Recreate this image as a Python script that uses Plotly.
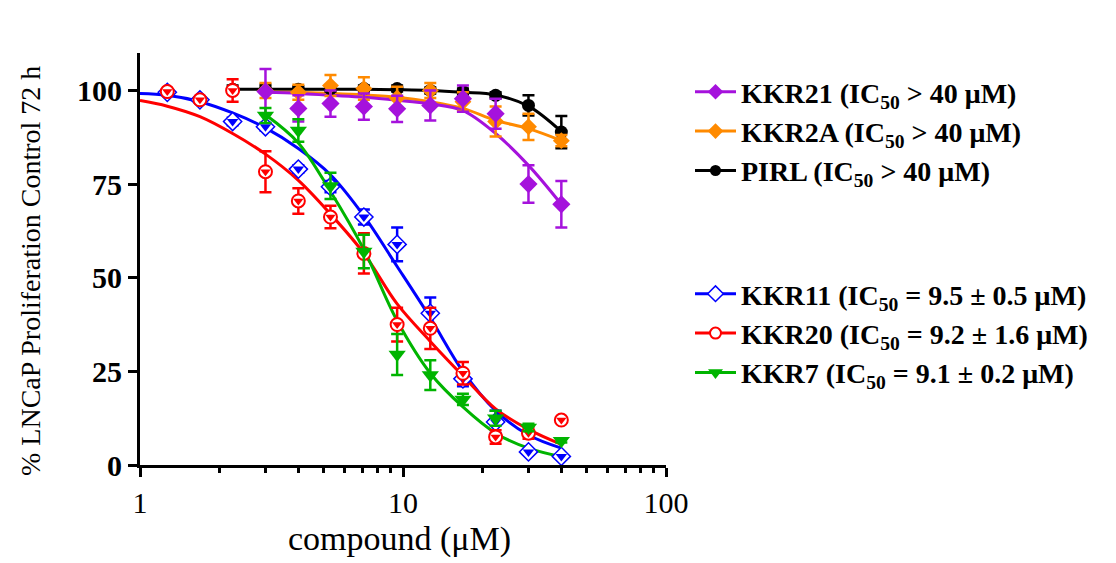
import plotly.graph_objects as go

# ---------------- data ----------------
conc = [1.27, 1.69, 2.25, 3.0, 4.0, 5.3, 7.1, 9.5, 12.7, 16.9, 22.5, 30, 40]
conc_from3 = [3.0, 4.0, 5.3, 7.1, 9.5, 12.7, 16.9, 22.5, 30, 40]
conc_from2 = [2.25, 3.0, 4.0, 5.3, 7.1, 9.5, 12.7, 16.9, 22.5, 30, 40]

kkr11_y = [99.5, 97.5, 91.7, 90.3, 79.0, 74.3, 66.2, 58.9, 40.5, 23.0, 11.5, 3.5, 2.3]
kkr11_err = [0.5, 0.5, 1.0, 1.0, 1.0, 1.5, 2.0, 4.5, 4.2, 2.0, 3.0, 0.5, 0.5]

kkr20_y = [99.7, 97.5, 100.0, 78.3, 70.5, 66.2, 56.5, 37.5, 36.5, 24.5, 7.5, 8.5, 12.0]
kkr20_err = [0.5, 0.5, 3.0, 5.5, 3.4, 3.0, 5.4, 4.5, 5.5, 3.0, 1.8, 1.5, 0.5]

kkr7_y = [93.3, 89.3, 74.5, 57.0, 29.5, 24.0, 17.5, 12.5, 10.0, 6.5]
kkr7_err = [2.0, 3.0, 3.5, 4.5, 5.5, 4.0, 1.5, 2.0, 1.0, 0.5]

kkr21_y = [99.7, 95.2, 96.5, 95.7, 95.1, 96.0, 97.8, 93.8, 75.0, 69.6]
kkr21_err = [6.0, 3.5, 3.5, 3.5, 3.5, 4.0, 3.5, 4.0, 5.0, 6.2]

kkr2a_y = [100.0, 99.5, 101.3, 100.5, 98.0, 100.0, 97.0, 91.7, 90.3, 86.6]
kkr2a_err = [2.0, 2.0, 2.8, 3.0, 3.0, 2.0, 2.5, 4.0, 3.5, 1.5]

pirl_y = [100.3, 100.5, 100.3, 100.5, 100.5, 100.5, 100.0, 99.7, 98.7, 96.0, 88.9]
pirl_err = [1.0, 1.0, 0.8, 0.8, 0.8, 0.8, 0.8, 0.8, 0.8, 2.7, 4.3]

# fitted curves
fit_x_full = [1.0, 1.27, 1.69, 2.25, 3.0, 4.0, 5.3, 7.1, 9.5, 12.7, 16.9, 22.5, 30, 40]
kkr11_fit = [99.2, 98.7, 97.0, 94.0, 90.0, 84.5, 77.5, 66.5, 53.0, 39.3, 25.0, 14.5, 8.0, 4.5]
kkr20_fit = [97.3, 95.8, 93.0, 88.5, 83.0, 76.0, 67.0, 56.5, 43.0, 33.0, 23.8, 15.0, 9.5, 5.5]
kkr7_fit = [93.5, 86.0, 73.0, 57.5, 38.5, 24.5, 15.5, 8.5, 4.5, 2.2]
kkr21_fit = [99.5, 99.2, 98.7, 98.2, 97.4, 96.4, 94.6, 88.5, 80.0, 69.6]
kkr2a_fit = [99.6, 99.5, 99.2, 98.8, 98.2, 97.0, 95.2, 92.0, 89.8, 86.6]
pirl_fit = [100.3, 100.3, 100.3, 100.3, 100.3, 100.2, 100.0, 99.5, 98.8, 95.8, 89.0]

x_ticks = [1, 10, 100]
x_tick_text = ["1", "10", "100"]
x_minor = [2, 3, 4, 5, 6, 7, 8, 9, 20, 30, 40, 50, 60, 70, 80, 90]
y_ticks = [0, 25, 50, 75, 100]

C_PURPLE = "#a512dc"
C_ORANGE = "#ff8a00"
C_BLACK = "#000000"
C_BLUE = "#0000ff"
C_RED = "#ff0000"
C_GREEN = "#00b400"

SERIF = "Liberation Serif"

fig = go.Figure()

def curve(x, y, color):
    fig.add_trace(go.Scatter(x=x, y=y, mode="lines", line=dict(color=color, width=3, shape="spline"),
                             showlegend=False, hoverinfo="skip"))

def points(x, y, err, color, symbol, size, fill=None, lw=0):
    fig.add_trace(go.Scatter(
        x=x, y=y, mode="markers", showlegend=False,
        marker=dict(symbol=symbol, size=size, color=fill if fill else color,
                    line=dict(color=color, width=lw)),
        error_y=dict(type="data", array=err, visible=True, color=color, thickness=2.5, width=6)))

def overlay(x, y, color, symbol, size):
    fig.add_trace(go.Scatter(x=x, y=y, mode="markers", showlegend=False, hoverinfo="skip",
                             marker=dict(symbol=symbol, size=size, color=color)))

# curves
curve(conc_from2, pirl_fit, C_BLACK)
curve(conc_from3, kkr2a_fit, C_ORANGE)
curve(conc_from3, kkr21_fit, C_PURPLE)
curve(fit_x_full, kkr11_fit, C_BLUE)
curve(fit_x_full, kkr20_fit, C_RED)
curve(conc_from3, kkr7_fit, C_GREEN)

# points
points(conc_from2, pirl_y, pirl_err, C_BLACK, "circle", 13)
points(conc_from3, kkr2a_y, kkr2a_err, C_ORANGE, "diamond", 13)
points(conc_from3, kkr21_y, kkr21_err, C_PURPLE, "diamond", 14)
points(conc, kkr11_y, kkr11_err, C_BLUE, "diamond", 14, fill="white", lw=1.5)
overlay(conc, kkr11_y, C_BLUE, "triangle-down", 10)
points(conc, kkr20_y, kkr20_err, C_RED, "circle", 13, fill="white", lw=2)
overlay(conc, kkr20_y, C_RED, "triangle-down", 9)
points(conc_from3, kkr7_y, kkr7_err, C_GREEN, "triangle-down", 15)

# legend entries
def leg(name, color, symbol, size, legend, fill=None, lw=0):
    fig.add_trace(go.Scatter(x=[None], y=[None], mode="lines+markers", name=name, legend=legend,
                             line=dict(color=color, width=3),
                             marker=dict(symbol=symbol, size=size, color=fill if fill else color,
                                         line=dict(color=color, width=lw))))

leg("KKR21 (IC<sub>50</sub> > 40 μM)", C_PURPLE, "diamond", 12, "legend")
leg("KKR2A (IC<sub>50</sub> > 40 μM)", C_ORANGE, "diamond", 12, "legend")
leg("PIRL (IC<sub>50</sub> > 40 μM)", C_BLACK, "circle", 11, "legend")
leg("KKR11 (IC<sub>50</sub> = 9.5 ± 0.5 μM)", C_BLUE, "diamond", 12, "legend2", fill="white", lw=1.5)
leg("KKR20 (IC<sub>50</sub> = 9.2 ± 1.6 μM)", C_RED, "circle", 11, "legend2", fill="white", lw=2)
leg("KKR7 (IC<sub>50</sub> = 9.1 ± 0.2 μM)", C_GREEN, "triangle-down", 13, "legend2")

# the page adds an 8 px body margin; lay out in screen coordinates minus that offset
OFF = 8
W, H = 1116 - OFF, 563 - OFF
L = 140 - OFF
T = 53 - OFF
R = W - (666 - OFF)
B = H - (465 - OFF)
pw = W - L - R
ph = H - T - B

def px(sx):
    return (sx - OFF - L) / pw

def py(sy):
    return (H - B - (sy - OFF)) / ph

legend_font = dict(family=SERIF, size=28, color="black", weight="bold")

fig.update_layout(
    width=W, height=H,
    margin=dict(l=L, r=R, t=T, b=B),
    paper_bgcolor="white", plot_bgcolor="white",
    font=dict(family=SERIF, color="black"),
    xaxis=dict(type="log", range=[0, 2], tickvals=x_ticks, ticktext=x_tick_text,
               ticks="outside", ticklen=9, tickwidth=3, tickcolor="black",
               showline=True, linewidth=3, linecolor="black", showgrid=False, zeroline=False,
               tickfont=dict(family=SERIF, size=30, color="black"),
               minor=dict(tickvals=x_minor, ticks="outside", ticklen=5, tickwidth=3,
                          tickcolor="black", showgrid=False)),
    yaxis=dict(range=[0, 110], tickvals=y_ticks,
               ticks="outside", ticklen=9, tickwidth=3, tickcolor="black",
               showline=True, linewidth=3, linecolor="black", showgrid=False, zeroline=False,
               tickfont=dict(family=SERIF, size=30, color="black", weight="bold")),
    legend=dict(x=px(690), y=py(67), xanchor="left", yanchor="top", font=legend_font,
                bgcolor="rgba(0,0,0,0)", itemwidth=41, tracegroupgap=0),
    legend2=dict(x=px(690), y=py(269), xanchor="left", yanchor="top", font=legend_font,
                 bgcolor="rgba(0,0,0,0)", itemwidth=41, tracegroupgap=0),
    annotations=[
        dict(text="% LNCaP Proliferation Control 72 h", xref="paper", yref="paper",
             x=px(30), y=py(271), xanchor="center", yanchor="middle", textangle=-90,
             showarrow=False, font=dict(family=SERIF, size=28, color="black")),
        dict(text="compound (μM)", xref="paper", yref="paper",
             x=px(399), y=py(539), xanchor="center", yanchor="middle",
             showarrow=False, font=dict(family=SERIF, size=34, color="black")),
    ],
)

fig.write_html("out.html")
